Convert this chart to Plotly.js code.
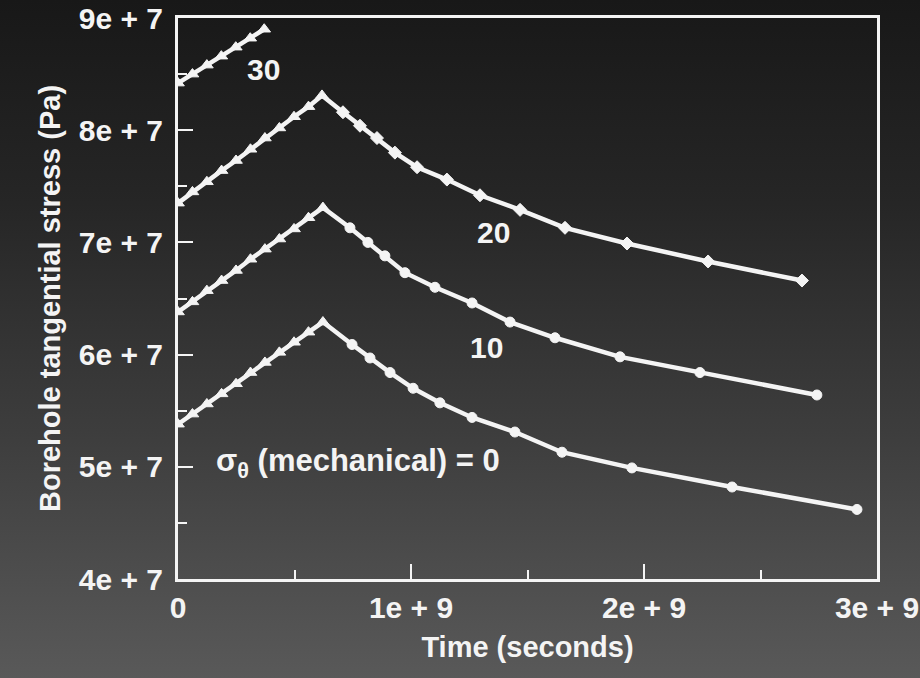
<!DOCTYPE html>
<html>
<head>
<meta charset="utf-8">
<script src="https://cdn.plot.ly/plotly-3.0.1.min.js"></script>
<style>
  html, body { margin: 0; padding: 0; }
  body {
    width: 920px; height: 678px; overflow: hidden;
    background: linear-gradient(180deg, #181818 0%, #262626 30%, #3e3e3e 65%, #595959 100%);
  }
  #chart { width: 920px; height: 678px; }
</style>
</head>
<body>
<div id="chart"></div>
<script>
// Time values (seconds) and borehole tangential stress (Pa)
const time0  = [0, 0.062e9, 0.124e9, 0.187e9, 0.249e9, 0.311e9, 0.373e9, 0.435e9, 0.498e9, 0.560e9, 0.622e9,
                0.747e9, 0.824e9, 0.910e9, 1.009e9, 1.124e9, 1.262e9, 1.446e9, 1.648e9, 1.948e9, 2.378e9, 2.914e9];
const stress0 = [5.38e7, 5.47e7, 5.56e7, 5.65e7, 5.74e7, 5.84e7, 5.93e7, 6.02e7, 6.11e7, 6.20e7, 6.29e7,
                 6.09e7, 5.97e7, 5.84e7, 5.70e7, 5.57e7, 5.44e7, 5.31e7, 5.13e7, 4.99e7, 4.82e7, 4.62e7];

const time10  = [0, 0.062e9, 0.124e9, 0.187e9, 0.249e9, 0.311e9, 0.373e9, 0.435e9, 0.498e9, 0.560e9, 0.622e9,
                 0.738e9, 0.815e9, 0.888e9, 0.974e9, 1.103e9, 1.262e9, 1.425e9, 1.618e9, 1.897e9, 2.240e9, 2.742e9];
const stress10 = [6.38e7, 6.47e7, 6.57e7, 6.66e7, 6.75e7, 6.85e7, 6.94e7, 7.03e7, 7.12e7, 7.22e7, 7.31e7,
                  7.13e7, 7.00e7, 6.88e7, 6.73e7, 6.60e7, 6.46e7, 6.29e7, 6.15e7, 5.98e7, 5.84e7, 5.64e7];

const time20  = [0, 0.062e9, 0.124e9, 0.187e9, 0.249e9, 0.311e9, 0.373e9, 0.435e9, 0.498e9, 0.560e9, 0.618e9,
                 0.708e9, 0.781e9, 0.854e9, 0.931e9, 1.026e9, 1.154e9, 1.296e9, 1.468e9, 1.661e9, 1.927e9, 2.275e9, 2.678e9];
const stress20 = [7.35e7, 7.45e7, 7.54e7, 7.64e7, 7.73e7, 7.83e7, 7.93e7, 8.02e7, 8.12e7, 8.21e7, 8.31e7,
                  8.16e7, 8.04e7, 7.93e7, 7.80e7, 7.67e7, 7.56e7, 7.42e7, 7.29e7, 7.13e7, 6.99e7, 6.83e7, 6.66e7];

const time30  = [0, 0.062e9, 0.124e9, 0.186e9, 0.248e9, 0.310e9, 0.370e9];
const stress30 = [8.42e7, 8.50e7, 8.58e7, 8.66e7, 8.74e7, 8.82e7, 8.90e7];

const curveLabels = ["σ<sub>θ</sub> (mechanical) = 0", "10", "20", "30"];

const xTickVals = [0, 1e9, 2e9, 3e9];
const xTickText = ["0", "1e + 9", "2e + 9", "3e + 9"];
const yTickVals = [4e7, 5e7, 6e7, 7e7, 8e7, 9e7];
const yTickText = ["4e + 7", "5e + 7", "6e + 7", "7e + 7", "8e + 7", "9e + 7"];

const WHITE = "#f4f4f4";
const FONT = "Liberation Sans, Arial, sans-serif";

function symbols(n, nRise, decaySym) {
  const s = [];
  for (let i = 0; i < n; i++) s.push(i < nRise ? "triangle-up" : decaySym);
  return s;
}
function sizes(n, nRise) {
  const s = [];
  for (let i = 0; i < n; i++) s.push(i < nRise ? 11 : 10);
  return s;
}

const traces = [
  {x: time0, y: stress0, sym: symbols(time0.length, 11, "circle"), sz: sizes(time0.length, 11)},
  {x: time10, y: stress10, sym: symbols(time10.length, 11, "circle"), sz: sizes(time10.length, 11)},
  {x: time20, y: stress20, sym: symbols(time20.length, 11, "diamond"), sz: sizes(time20.length, 11)},
  {x: time30, y: stress30, sym: symbols(time30.length, 7, "triangle-up"), sz: sizes(time30.length, 7)}
].map(t => ({
  x: t.x, y: t.y, type: "scatter", mode: "lines+markers",
  line: {color: WHITE, width: 4.5},
  marker: {color: WHITE, size: t.sz, symbol: t.sym, opacity: 1, line: {color: WHITE, width: 1}},
  showlegend: false, hoverinfo: "skip"
}));

const layout = {
  width: 920, height: 678,
  margin: {l: 178, r: 43, t: 18, b: 99},
  paper_bgcolor: "rgba(0,0,0,0)",
  plot_bgcolor: "rgba(0,0,0,0)",
  font: {family: FONT, color: WHITE, size: 30},
  showlegend: false,
  xaxis: {
    range: [0, 3e9], tickmode: "array", tickvals: xTickVals, ticktext: xTickText,
    ticks: "inside", ticklen: 15, tickwidth: 2, tickcolor: WHITE,
    minor: {tickmode: "linear", tick0: 0, dtick: 0.5e9, ticks: "inside", ticklen: 9, tickwidth: 2, tickcolor: WHITE},
    showline: true, linecolor: WHITE, linewidth: 3, mirror: true,
    showgrid: false, zeroline: false,
    tickfont: {family: FONT, size: 30, color: WHITE, weight: "bold"},
    title: {text: "Time (seconds)", font: {family: FONT, size: 29, color: WHITE, weight: "bold"}, standoff: 14}
  },
  yaxis: {
    range: [4e7, 9e7], tickmode: "array", tickvals: yTickVals, ticktext: yTickText,
    ticks: "inside", ticklen: 15, tickwidth: 2, tickcolor: WHITE,
    minor: {tickmode: "linear", tick0: 0, dtick: 0.5e7, ticks: "inside", ticklen: 9, tickwidth: 2, tickcolor: WHITE},
    showline: true, linecolor: WHITE, linewidth: 3, mirror: true,
    showgrid: false, zeroline: false, ticklabelstandoff: 6,
    tickfont: {family: FONT, size: 30, color: WHITE, weight: "bold"},
    title: {text: "Borehole tangential stress (Pa)", font: {family: FONT, size: 29, color: WHITE, weight: "bold"}, standoff: 10}
  },
  annotations: [
    {x: 0.155e9, y: 5.03e7, text: curveLabels[0], xanchor: "left", yanchor: "middle", showarrow: false,
     font: {family: FONT, size: 31, color: WHITE, weight: "bold"}},
    {x: 1.322e9, y: 6.06e7, text: curveLabels[1], xanchor: "center", yanchor: "middle", showarrow: false,
     font: {family: FONT, size: 30, color: WHITE, weight: "bold"}},
    {x: 1.352e9, y: 7.09e7, text: curveLabels[2], xanchor: "center", yanchor: "middle", showarrow: false,
     font: {family: FONT, size: 30, color: WHITE, weight: "bold"}},
    {x: 0.369e9, y: 8.54e7, text: curveLabels[3], xanchor: "center", yanchor: "middle", showarrow: false,
     font: {family: FONT, size: 30, color: WHITE, weight: "bold"}}
  ]
};

Plotly.newPlot("chart", traces, layout, {displayModeBar: false, staticPlot: true});
</script>
</body>
</html>
